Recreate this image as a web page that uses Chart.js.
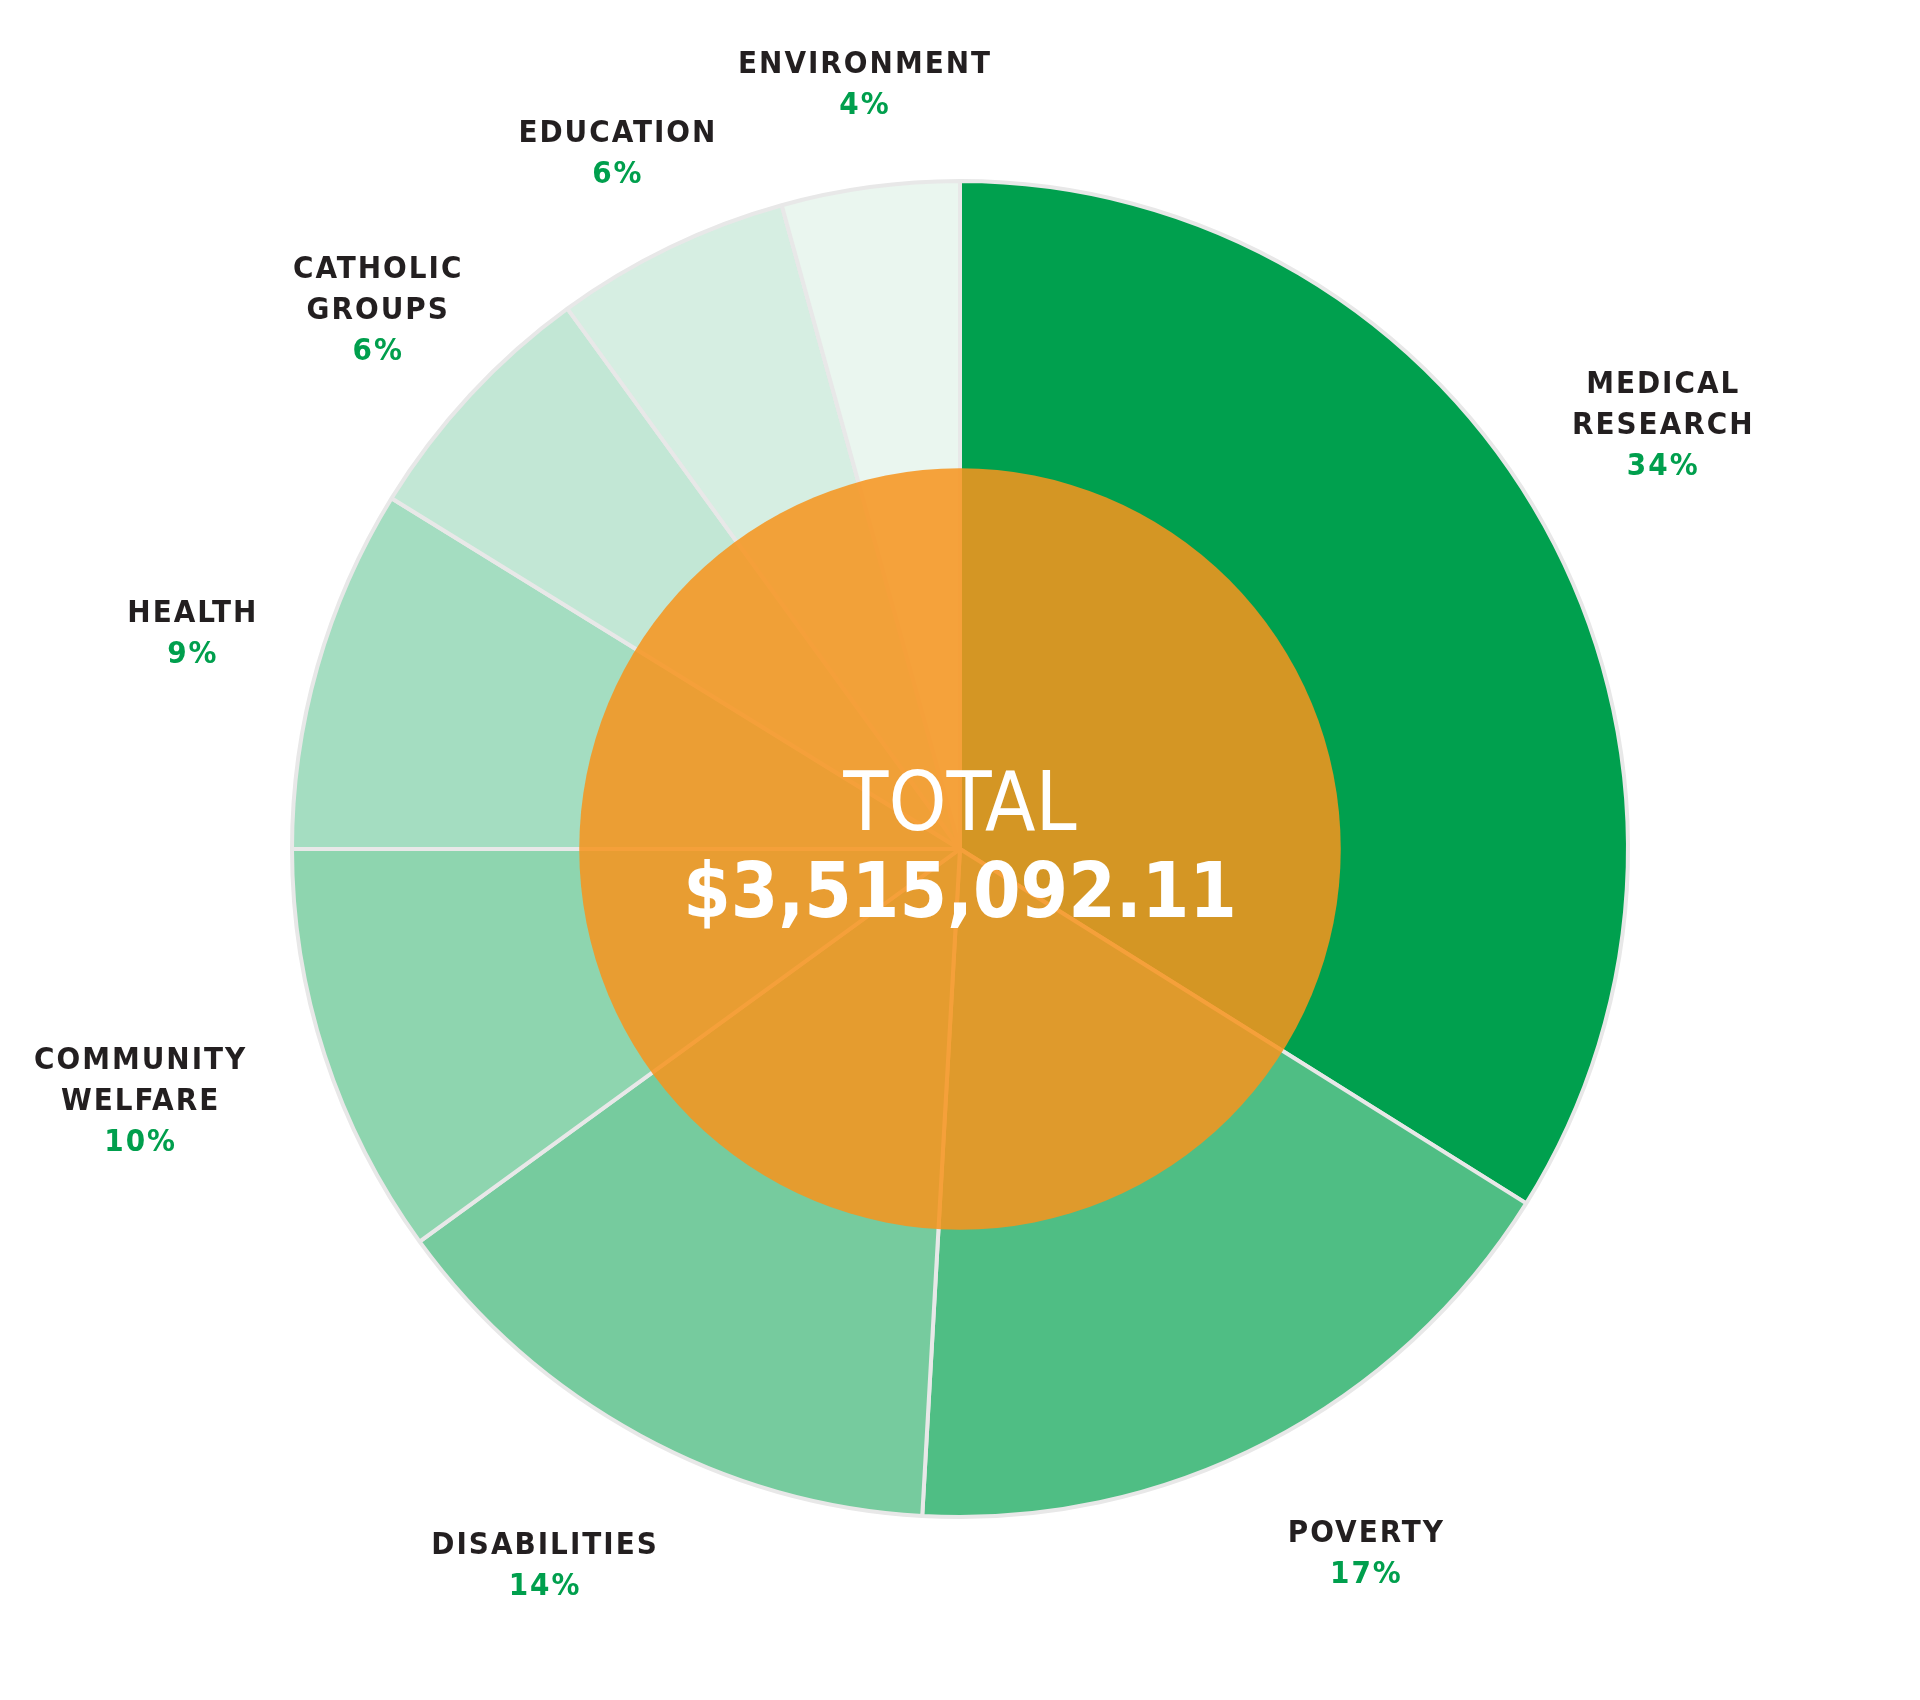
<!DOCTYPE html>
<html>
<head>
<meta charset="utf-8">
<script src="https://cdn.jsdelivr.net/npm/chart.js@4"></script>
<style>
  body { margin: 0; background: #fff; }
  #wrap { width: 1920px; height: 1700px; }
</style>
</head>
<body>
<div id="wrap"><canvas id="myChart" width="1920" height="1700"></canvas></div>
<script>
// datos
const categorias = ['MEDICAL\nRESEARCH', 'POVERTY', 'DISABILITIES', 'COMMUNITY\nWELFARE', 'HEALTH', 'CATHOLIC\nGROUPS', 'EDUCATION', 'ENVIRONMENT']
const porcentajes = [33.9, 17.0, 14.1, 10.0, 8.8, 6.2, 5.7, 4.3]
const colores = ['#00A04E', '#4FBE84', '#76CB9E', '#8ED5AF', '#A4DDC1', '#C2E7D5', '#D6EEE2', '#EAF6EF']
const totalTitulo = 'TOTAL'
const totalMonto = '$3,515,092.11'

// pequeños ajustes de las etiquetas (px) respecto al angulo medio de cada porcion
const ajusteEtiquetas = [[2, -38], [38, -10], [-31, 10], [-57, 2], [4, 1], [6, 4], [6, 24], [13, 27]]

const labelFont = "bold 31px 'DejaVu Sans Condensed', 'DejaVu Sans', sans-serif"
const lineH = 41
const capH = 23

// circulo naranja semitransparente + texto del total
const centerPlugin = {
  id: 'centerTotal',
  afterDatasetsDraw(chart) {
    let ctx = chart.ctx
    let arc = chart.getDatasetMeta(0).data[0]
    let r = arc.outerRadius * 0.57
    ctx.save()
    ctx.fillStyle = 'rgba(247, 148, 29, 0.86)'
    ctx.beginPath()
    ctx.arc(arc.x, arc.y, r, 0, Math.PI * 2)
    ctx.fill()
    ctx.fillStyle = '#fff'
    ctx.textAlign = 'center'
    ctx.textBaseline = 'alphabetic'
    ctx.font = "82px 'DejaVu Sans Condensed', 'DejaVu Sans', sans-serif"
    ctx.fillText(totalTitulo, arc.x, arc.y - 19)
    ctx.font = "bold 76px 'DejaVu Sans Condensed', 'DejaVu Sans', sans-serif"
    ctx.fillText(totalMonto, arc.x, arc.y + 68)
    ctx.restore()
  }
}

// etiquetas fuera del pastel
const outLabels = {
  id: 'outLabels',
  afterDraw(chart) {
    let ctx = chart.ctx
    let meta = chart.getDatasetMeta(0)
    ctx.save()
    ctx.font = labelFont
    ctx.letterSpacing = '2px'
    ctx.textAlign = 'center'
    ctx.textBaseline = 'alphabetic'
    meta.data.forEach((arc, i) => {
      let lines = categorias[i].split('\n')
      let pct = Math.round(porcentajes[i]) + '%'
      let all = lines.concat([pct])
      let h = (all.length - 1) * lineH + capH
      let mid = (arc.startAngle + arc.endAngle) / 2
      let dist = arc.outerRadius * 1.2
      let cx = arc.x + Math.cos(mid) * dist + ajusteEtiquetas[i][0]
      let cy = arc.y + Math.sin(mid) * dist + ajusteEtiquetas[i][1]
      let top = cy - h / 2 + capH
      all.forEach((t, j) => {
        ctx.fillStyle = j === all.length - 1 ? '#009F4D' : '#231F20'
        ctx.fillText(t, cx, top + j * lineH)
      })
    })
    ctx.restore()
  }
}

const ctx = document.getElementById('myChart').getContext('2d')
const myChart = new Chart(ctx, {
  type: 'pie',
  data: {
    labels: categorias,
    datasets: [{
      data: porcentajes,
      backgroundColor: colores,
      borderColor: '#E8E8E8',
      borderWidth: 4
    }]
  },
  options: {
    responsive: false,
    animation: false,
    radius: 668,
    layout: { padding: { left: 292, right: 292, top: 181, bottom: 183 } },
    plugins: {
      legend: { display: false },
      tooltip: { enabled: false }
    }
  },
  plugins: [centerPlugin, outLabels]
})
</script>
</body>
</html>
